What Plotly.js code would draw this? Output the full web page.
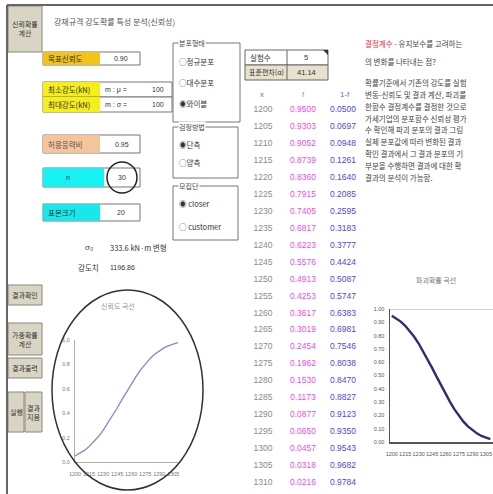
<!DOCTYPE html>
<html>
<head>
<meta charset="utf-8">
<script src="https://cdn.plot.ly/plotly-3.0.1.min.js"></script>
<style>
  html, body { margin: 0; padding: 0; background: #ffffff; }
  #sheet { width: 493px; height: 494px; }
</style>
</head>
<body>
<div id="sheet"></div>
<script>
// Strength values (kN) evaluated in the sheet
const strengthX = [1200, 1205, 1210, 1215, 1220, 1225, 1230, 1235, 1240, 1245, 1250, 1255,
                   1260, 1265, 1270, 1275, 1280, 1285, 1290, 1295, 1300, 1305, 1310];
// Survival probability f
const survivalF = [0.9500, 0.9303, 0.9052, 0.8739, 0.8360, 0.7915, 0.7405, 0.6817, 0.6223, 0.5576, 0.4913, 0.4253,
                   0.3617, 0.3019, 0.2454, 0.1962, 0.1530, 0.1173, 0.0877, 0.0650, 0.0457, 0.0318, 0.0216];
// Failure probability 1-f
const failureF  = [0.0500, 0.0697, 0.0948, 0.1261, 0.1640, 0.2085, 0.2595, 0.3183, 0.3777, 0.4424, 0.5087, 0.5747,
                   0.6383, 0.6981, 0.7546, 0.8038, 0.8470, 0.8827, 0.9123, 0.9350, 0.9543, 0.9682, 0.9784];
const tableColumns = ['x', 'f', '1-f'];
const leftChartTitle = '신뢰도 곡선';
const rightChartTitle = '파괴확률 곡선';

const W = 493, H = 494;
const px = x => x / W;
const py = y => 1 - y / H;
const KR = '"Noto Sans CJK KR", "Noto Sans", sans-serif';
const NUM = '"Liberation Sans", Arial, sans-serif';

const shapes = [];
const annotations = [];

function box(x0, y0, x1, y1, fill, line, lw) {
  shapes.push({type: 'rect', xref: 'paper', yref: 'paper',
    x0: px(x0), x1: px(x1), y0: py(y1), y1: py(y0),
    fillcolor: fill || 'rgba(0,0,0,0)', line: {color: line || 'rgba(0,0,0,0)', width: lw == null ? 1 : lw},
    layer: 'below'});
}
function seg(x0, y0, x1, y1, color, w) {
  shapes.push({type: 'line', xref: 'paper', yref: 'paper',
    x0: px(x0), x1: px(x1), y0: py(y0), y1: py(y1), line: {color: color, width: w}});
}
function label(x, y, text, opt) {
  opt = opt || {};
  const a = {xref: 'paper', yref: 'paper', x: px(x), y: py(y), text: text, showarrow: false,
    xanchor: opt.anchor || 'left', yanchor: 'middle',
    font: {family: opt.family || KR, size: opt.size || 8, color: opt.color || '#333'}};
  if (opt.bg) { a.bgcolor = opt.bg; a.borderpad = 0; }
  annotations.push(a);
}
function button(x0, y0, x1, y1, lines) {
  box(x0, y0, x1, y1, '#d8d5c4', '#8a8878', 1);
  label((x0 + x1) / 2, (y0 + y1) / 2, lines.join('<br>'), {anchor: 'center', size: 7, color: '#333'});
}

// sheet frame
seg(7, 5, 493, 5, '#666', 2);
seg(7, 5, 7, 494, '#666', 2);

// sheet heading and command buttons
label(52, 22, '강재규격 강도확률 특성 분석(신뢰성)', {size: 8, color: '#555'});
button(8, 6, 42, 52, ['신뢰확률', '계산']);
button(8, 285, 42, 305, ['결과확인']);
button(8, 323, 42, 355, ['가중확률', '계산']);
button(8, 358, 42, 378, ['결과출력']);
button(8, 392, 24, 432, ['실행']);
button(25, 392, 42, 432, ['결과', '지움']);

// input cells
box(43, 52, 140, 65, '#ffffff', '#777', 1);
box(43, 52, 100, 65, '#f2c318', null, 0);
label(46, 58.5, '목표신뢰도', {size: 7.5});
label(112, 58.5, '0.90', {size: 7, family: NUM});

box(43, 82, 172, 97, '#ffffff', '#777', 1);
box(43, 82, 100, 97, '#f6ee1a', null, 0);
label(46, 89.5, '최소강도(kN)', {size: 7.5});
label(103, 89.5, 'm : μ =', {size: 7, family: NUM});
label(150, 89.5, '100', {size: 7, family: NUM});

box(43, 97, 172, 112, '#ffffff', '#777', 1);
box(43, 97, 100, 112, '#f6ee1a', null, 0);
label(46, 104.5, '최대강도(kN)', {size: 7.5});
label(103, 104.5, 'm : σ =', {size: 7, family: NUM});
label(150, 104.5, '100', {size: 7, family: NUM});

box(43, 135, 140, 153, '#ffffff', '#777', 1);
box(43, 135, 100, 153, '#f6c49a', null, 0);
label(46, 144, '허용응력비', {size: 7.5, color: '#555'});
label(113, 144, '0.95', {size: 7, family: NUM});

box(43, 168, 140, 187, '#ffffff', '#777', 1);
box(43, 168, 104, 187, '#19f2f2', null, 0);
label(68, 177.5, 'n', {size: 7, family: NUM, anchor: 'center'});
label(122, 177.5, '30', {size: 7, family: NUM, anchor: 'center'});
shapes.push({type: 'circle', xref: 'paper', yref: 'paper', x0: px(107), x1: px(137), y0: py(193), y1: py(162),
  line: {color: '#222', width: 1.5}});

box(43, 204, 140, 221, '#ffffff', '#777', 1);
box(43, 204, 100, 221, '#19e8ea', null, 0);
label(46, 212.5, '표본크기', {size: 7.5});
label(115, 212.5, '20', {size: 7, family: NUM});

label(83, 248, 'σ₀', {size: 8, family: NUM, color: '#444'});
label(108, 248, '333.6 kN·m 변형', {size: 7.5, color: '#333'});
label(76, 267, '강도치', {size: 7.5});
label(108, 267, '1196.86', {size: 7, family: NUM});

// option groups
function group(x0, y0, x1, y1, title, options) {
  box(x0, y0, x1, y1, 'rgba(0,0,0,0)', '#777', 1);
  label(x0 + 5, y0, title, {size: 7, bg: '#ffffff', color: '#444'});
  options.forEach(o => label(x0 + 4, o[0], o[1], {size: 7.5, color: '#333'}));
}
group(173, 43, 240, 122, '분포형태', [[62, '○정규분포'], [82, '○대수분포'], [103, '◉와이블']]);
group(173, 127, 238, 178, '검정방법', [[144, '◉단측'], [163, '○양측']]);
group(173, 186, 238, 240, '모집단', [[203, '◉ closer'], [226, '○ customer']]);

// summary cells above the table
box(245, 50, 328, 65, '#ffffff', '#666', 1);
box(245, 65, 328, 80, '#e6e2cc', '#666', 1);
seg(287, 50, 287, 80, '#666', 1);
label(248, 57.5, '실험수', {size: 7.5});
label(306, 57.5, '5', {size: 7.5, family: NUM, anchor: 'center'});
label(247, 72.5, '표준편차(α)', {size: 7});
label(306, 72.5, '41.14', {size: 7.5, family: NUM, anchor: 'center'});
shapes.push({type: 'path', xref: 'paper', yref: 'paper',
  path: `M ${px(323)} ${py(50)} L ${px(328)} ${py(50)} L ${px(328)} ${py(55)} Z`,
  fillcolor: '#333', line: {width: 0}});

// table header
label(262, 95, tableColumns[0], {size: 8, family: NUM, color: '#777', anchor: 'center'});
label(303, 95, tableColumns[1], {size: 8, family: NUM, color: '#999', anchor: 'center'});
label(345, 95, tableColumns[2], {size: 8, family: NUM, color: '#6a6ae0', anchor: 'center'});

// explanatory note
const noteLines = [
  '<span style="color:#e8303a">결정계수 - </span>유지보수를 고려하는',
  '의 변화를 나타내는 점?',
  '',
  '확률기준에서 기존의 강도를 실험',
  '변동-신뢰도 및 결과 계산, 파괴를',
  '한함수 결정계수를 결정한 것으로',
  '가세기업의 분포함수 신뢰성 평가',
  '수 확인해 파괴 분포의 결과 그림',
  '실제 분포값에 따라 변화된 결과',
  '확인 결과에서 그 결과 분포의 기',
  '부분을 수행하면 결과에 대한 확',
  '결과의 분석이 가능함.'
];
const noteY = [44, 61, 0, 82, 94, 106, 118, 130, 142, 154, 166, 178];
noteLines.forEach((t, i) => { if (t) label(363, noteY[i], t, {size: 7.5, color: '#444'}); });

// chart titles and the ellipse framing the left chart
label(118, 306, leftChartTitle, {size: 7, color: '#999', anchor: 'center'});
label(436, 280, rightChartTitle, {size: 7, color: '#777', anchor: 'center'});
shapes.push({type: 'circle', xref: 'paper', yref: 'paper', x0: px(52), x1: px(203), y0: py(490), y1: py(290),
  line: {color: '#333', width: 1.5}});
shapes.push({type: 'line', xref: 'x2 domain', yref: 'y2', x0: 0, x1: 1, y0: 1, y1: 1,
  line: {color: '#cfcfcf', width: 2}});

const fmt4 = v => v.toFixed(4);
const traces = [
  {x: strengthX, y: failureF, xaxis: 'x', yaxis: 'y', type: 'scatter', mode: 'lines',
   line: {color: '#8585d6', width: 1.3}, hoverinfo: 'skip'},
  {x: strengthX, y: survivalF, xaxis: 'x2', yaxis: 'y2', type: 'scatter', mode: 'lines',
   line: {color: '#2c2c78', width: 2.4}, hoverinfo: 'skip'},
  {x: strengthX.map(() => tableColumns[0]), y: strengthX, text: strengthX.map(String),
   xaxis: 'x3', yaxis: 'y3', type: 'scatter', mode: 'text',
   textfont: {family: NUM, size: 8.5, color: '#8a8a8a'}, hoverinfo: 'skip'},
  {x: strengthX.map(() => tableColumns[1]), y: strengthX, text: survivalF.map(fmt4),
   xaxis: 'x3', yaxis: 'y3', type: 'scatter', mode: 'text',
   textfont: {family: NUM, size: 8.5, color: '#ee4eee'}, hoverinfo: 'skip'},
  {x: strengthX.map(() => tableColumns[2]), y: strengthX, text: failureF.map(fmt4),
   xaxis: 'x3', yaxis: 'y3', type: 'scatter', mode: 'text',
   textfont: {family: NUM, size: 8.5, color: '#4a4ae6'}, hoverinfo: 'skip'}
];

const tickFont = c => ({family: NUM, size: 5.5, color: c});
const rowPx = 16.95;           // row pitch of the table, px per 5 kN
const pxPerUnit = rowPx / 5;
const layout = {
  width: W, height: H,
  margin: {l: 0, r: 0, t: 0, b: 0},
  paper_bgcolor: '#ffffff', plot_bgcolor: 'rgba(0,0,0,0)',
  showlegend: false,
  shapes: shapes,
  annotations: annotations,
  xaxis: {domain: [75 / W, 178 / W], range: [1200, 1310], anchor: 'y',
    showline: true, linecolor: '#b0b0b0', linewidth: 1, showgrid: false, zeroline: false,
    ticks: '', tick0: 1200, dtick: 15, tickangle: 0, tickfont: tickFont('#777'), ticklabelstandoff: 6},
  yaxis: {domain: [py(462), py(340)], range: [0, 1], anchor: 'x',
    showline: true, linecolor: '#b0b0b0', linewidth: 1, showgrid: false, zeroline: false,
    ticks: '', dtick: 0.2, tickformat: '.1f', tickfont: tickFont('#777'), ticklabelstandoff: 3},
  xaxis2: {domain: [390 / W, 1], range: [1198, 1313], anchor: 'y2',
    showline: true, linecolor: '#555', linewidth: 1.5, showgrid: false, zeroline: false,
    ticks: '', tick0: 1200, dtick: 15, tickangle: 0, tickfont: tickFont('#555'), ticklabelstandoff: 6},
  yaxis2: {domain: [py(442), py(309)], range: [0, 1], anchor: 'x2',
    showline: true, linecolor: '#555', linewidth: 1.5, showgrid: false, zeroline: false,
    ticks: '', dtick: 0.1, tickformat: '.2f', tickfont: tickFont('#555'), ticklabelstandoff: 3},
  xaxis3: {domain: [243 / W, 363 / W], range: [-0.5, 2.5], type: 'category',
    categoryorder: 'array', categoryarray: tableColumns, visible: false, anchor: 'y3'},
  yaxis3: {domain: [0, 1], range: [1200 + (H - 110) / pxPerUnit, 1200 - 110 / pxPerUnit],
    visible: false, anchor: 'x3'}
};

Plotly.newPlot('sheet', traces, layout, {staticPlot: true, displayModeBar: false});
</script>
</body>
</html>
